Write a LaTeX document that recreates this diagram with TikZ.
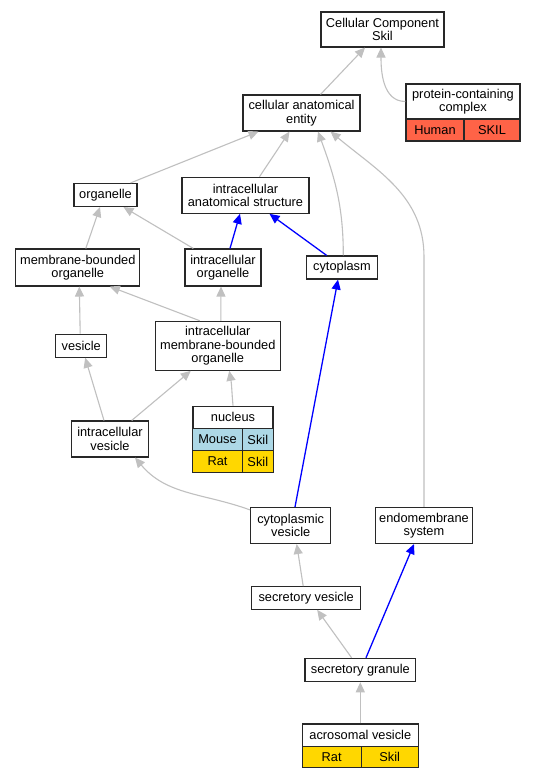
\documentclass[tikz,border=0pt]{standalone}
\usepackage{fontspec}
\setmainfont{Liberation Sans}
\usetikzlibrary{arrows.meta}
\definecolor{edgegray}{RGB}{192,192,192}
\definecolor{humanred}{RGB}{255,99,71}
\definecolor{mouseblue}{RGB}{173,216,230}
\definecolor{ratgold}{RGB}{255,215,0}
\definecolor{boxline}{RGB}{40,40,40}
\tikzset{
  box/.style={draw=boxline, line width=1.1pt, fill=white, inner sep=0pt, align=center,
    font=\fontsize{12.8}{13.4}\selectfont},
  cell/.style={box},
  gedge/.style={draw=edgegray, line width=1.1pt, -{Triangle[length=10pt,width=9pt]}},
  bedge/.style={draw=blue, line width=1.3pt, -{Triangle[length=10pt,width=9pt]}},
}
\begin{document}
\begin{tikzpicture}[x=1pt,y=-1pt]
\useasboundingbox[fill=white] (0,0) rectangle (535,779);

% nodes
\node[box, minimum width=123, minimum height=35] (cc) at (382.5,29.5) {Cellular Component\\Skil};
\node[box, minimum width=114, minimum height=35] (pcc) at (463,101.5) {protein-containing\\complex};
\node[cell, fill=humanred, minimum width=58, minimum height=22] (pcc1) at (435,130) {Human};
\node[cell, fill=humanred, minimum width=56, minimum height=22] (pcc2) at (492,130) {SKIL};
\node[box, minimum width=117, minimum height=36] (cae) at (301.5,113) {cellular anatomical\\entity};
\node[box, minimum width=63, minimum height=23] (org) at (105.5,195) {organelle};
\node[box, minimum width=127, minimum height=36] (ias) at (245.5,195.3) {intracellular\\anatomical structure};
\node[box, minimum width=124, minimum height=37] (mbo) at (77.8,267.5) {membrane-bounded\\organelle};
\node[box, minimum width=76, minimum height=37] (io) at (223,267.5) {intracellular\\organelle};
\node[box, minimum width=71, minimum height=23] (cyto) at (342,267.5) {cytoplasm};
\node[box, minimum width=51, minimum height=23] (ves) at (81.2,345.7) {vesicle};
\node[box, minimum width=125, minimum height=49] (imbo) at (217.8,345.8) {intracellular\\membrane-bounded\\organelle};
\node[box, minimum width=80, minimum height=22] (nuc) at (233,417.2) {nucleus};
\node[cell, fill=mouseblue, minimum width=49.5, minimum height=22.4] (nuc1) at (217.5,439.5) {Mouse};
\node[cell, fill=mouseblue, minimum width=31, minimum height=22.4] (nuc2) at (257.8,439.5) {Skil};
\node[cell, fill=ratgold, minimum width=49.5, minimum height=21.6] (nuc3) at (217.5,461.5) {Rat};
\node[cell, fill=ratgold, minimum width=31, minimum height=21.6] (nuc4) at (257.8,461.5) {Skil};
\node[box, minimum width=77, minimum height=36] (iv) at (110,439) {intracellular\\vesicle};
\node[box, minimum width=80, minimum height=36] (cv) at (290.7,525.5) {cytoplasmic\\vesicle};
\node[box, minimum width=97, minimum height=36] (ems) at (424,525.5) {endomembrane\\system};
\node[box, minimum width=109, minimum height=22.6] (sv) at (306.2,598) {secretory vesicle};
\node[box, minimum width=110.7, minimum height=23.4] (sg) at (360.3,670) {secretory granule};
\node[box, minimum width=116, minimum height=22.7] (av) at (360.3,735.3) {acrosomal vesicle};
\node[cell, fill=ratgold, minimum width=58.7, minimum height=21] (av1) at (331.7,757.2) {Rat};
\node[cell, fill=ratgold, minimum width=57.3, minimum height=21] (av2) at (389.7,757.2) {Skil};

% edges
\draw[gedge] ([xshift=19]cae.north) -- ([xshift=-17.5]cc.south);
\draw[gedge] (pcc.west) to[out=180,in=-90] ([xshift=-1.5]cc.south);
\draw[gedge] ([xshift=25]org.north) -- ([xshift=-43]cae.south);
\draw[gedge] ([xshift=14]ias.north) -- ([xshift=-12]cae.south);
\draw[gedge] ([xshift=1.3]cyto.north) to[out=90,in=-70] ([xshift=16.5]cae.south);
\draw[gedge] (ems.north) -- ++(0,-250) to[out=90,in=-40] ([xshift=29]cae.south);
\draw[gedge] ([xshift=8]mbo.north) -- ([xshift=-5.5]org.south);
\draw[gedge] ([xshift=-29.7]io.north) -- ([xshift=18]org.south);
\draw[bedge] ([xshift=7]io.north) -- ([xshift=-5.5]ias.south);
\draw[bedge] ([xshift=-15.3]cyto.north) -- ([xshift=24]ias.south);
\draw[gedge] ([xshift=-1]ves.north) -- ([xshift=1.5]mbo.south);
\draw[gedge] ([xshift=-18]imbo.north) -- ([xshift=32]mbo.south);
\draw[gedge] ([xshift=3]imbo.north) -- ([xshift=-2]io.south);
\draw[gedge] ([xshift=-6]iv.north) -- ([xshift=4]ves.south);
\draw[gedge] ([xshift=21.7]iv.north) -- ([xshift=-27]imbo.south);
\draw[gedge] (nuc.north) to[out=95,in=-80] ([xshift=11.5]imbo.south);
\draw[gedge] ([yshift=-3]cv.north west) to[out=160,in=-50] ([xshift=25]iv.south);
\draw[bedge] ([xshift=4.3]cv.north) -- ([xshift=-4]cyto.south);
\draw[gedge] ([xshift=-3]sv.north) -- ([xshift=6]cv.south);
\draw[gedge] ([xshift=-8.7]sg.north) -- ([xshift=11]sv.south);
\draw[bedge] ([xshift=5.7]sg.north) -- ([xshift=-10]ems.south);
\draw[gedge] (av.north) -- (sg.south);
\end{tikzpicture}
\end{document}
